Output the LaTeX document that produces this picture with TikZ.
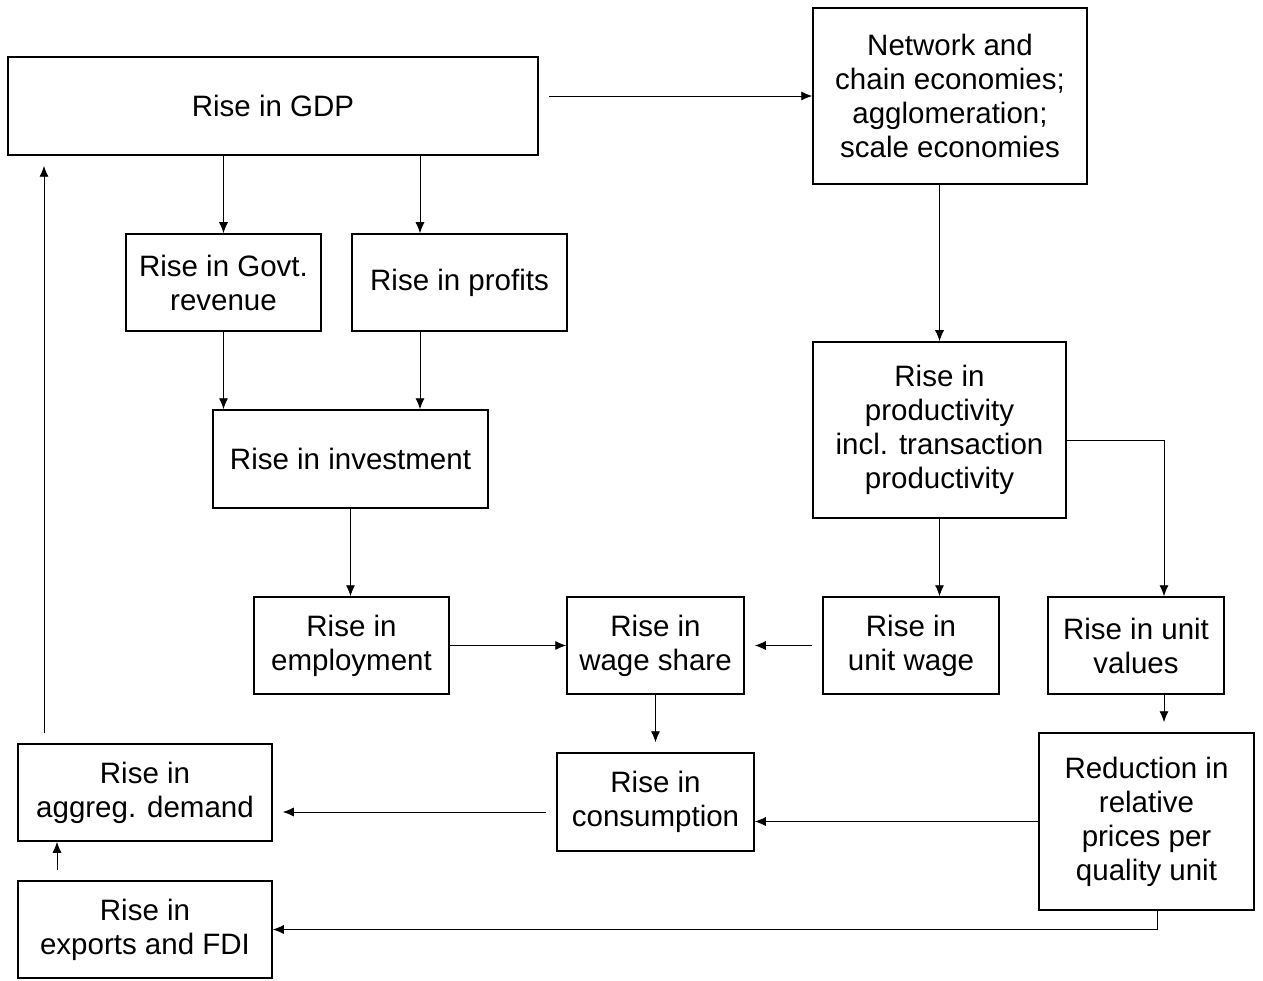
\documentclass[tikz,border=0pt]{standalone}
\usepackage{fontspec}
\setmainfont{Liberation Sans}
\usetikzlibrary{arrows.meta}
\begin{document}
\begin{tikzpicture}[x=1pt,y=-1pt,
  box/.style={draw, line width=1.5pt, align=center, inner sep=0pt,
    font=\fontsize{29.5}{34}\selectfont},
  arr/.style={line width=0.9pt, -{Latex[length=11pt,width=9pt]}}]
\useasboundingbox (0,0) rectangle (1263,981);
\node[box, minimum width=530pt, minimum height=98pt] (gdp) at (273,106) {Rise in GDP};
\node[box, minimum width=274pt, minimum height=176pt] (net) at (950,96) {Network and\\chain economies;\\agglomeration;\\scale economies};
\node[box, minimum width=195pt, minimum height=97pt] (govt) at (223.5,282.5) {Rise in Govt.\\revenue};
\node[box, minimum width=215pt, minimum height=97pt] (prof) at (459.5,282.5) {Rise in profits};
\node[box, minimum width=275pt, minimum height=98pt] (inv) at (350.5,459) {Rise in investment};
\node[box, minimum width=253pt, minimum height=176pt] (prod) at (939.5,430) {Rise in\\productivity\\incl. transaction\\productivity};
\node[box, minimum width=195pt, minimum height=97pt] (emp) at (351.5,645.5) {Rise in\\employment};
\node[box, minimum width=177pt, minimum height=97pt] (wage) at (655.5,645.5) {Rise in\\wage share};
\node[box, minimum width=176pt, minimum height=97pt] (uwage) at (911,645.5) {Rise in\\unit wage};
\node[box, minimum width=176pt, minimum height=97pt] (uval) at (1136,645.5) {Rise in unit\\values};
\node[box, minimum width=197pt, minimum height=98pt] (cons) at (655.5,802) {Rise in\\consumption};
\node[box, minimum width=215pt, minimum height=177pt] (red) at (1146.5,821.5) {Reduction in\\relative\\prices per\\quality unit};
\node[box, minimum width=254pt, minimum height=97pt] (agg) at (145,792.5) {Rise in\\aggreg. demand};
\node[box, minimum width=254pt, minimum height=97pt] (exp) at (145,929.5) {Rise in\\exports and FDI};

\coordinate (p1) at ([xshift=-39.5pt]prof.north);
\coordinate (v1) at ([xshift=28pt]uval.north);
\coordinate (e1) at ([xshift=-88pt]exp.north);
\coordinate (a1) at ([xshift=-101pt]agg.north);
\coordinate (c1) at ([yshift=-10pt]cons.west);

\draw[arr, shorten <=10pt] (gdp.east |- net.west) -- (net.west);
\draw[arr] (gdp.south -| govt.north) -- (govt.north);
\draw[arr] (gdp.south -| p1) -- (p1);
\draw[arr] (govt.south) -- (govt.south |- inv.north);
\draw[arr] (prof.south -| p1) -- (inv.north -| p1);
\draw[arr] (inv.south) -- (inv.south |- emp.north);
\draw[arr] (net.south -| prod.north) -- (prod.north);
\draw[arr] (prod.south) -- (prod.south |- uwage.north);
\draw[arr] ([yshift=-10pt]prod.east) -| (v1);
\draw[arr] (emp.east) -- (wage.west);
\draw[arr, shorten <=10pt, shorten >=10pt] (uwage.west) -- (wage.east);
\draw[arr, shorten >=10pt] (wage.south) -- (cons.north);
\draw[arr, shorten >=10pt] (uval.south -| v1) -- (red.north -| v1);
\draw[arr] (red.west) -- (red.west -| cons.east);
\draw[arr, shorten <=10pt, shorten >=10pt] (c1) -- (c1 -| agg.east);
\draw[arr, shorten <=10pt] (e1) -- (e1 |- agg.south);
\draw[arr, shorten <=10pt, shorten >=10pt] (a1) -- (a1 |- gdp.south);
\draw[arr] ([xshift=10.5pt]red.south) |- (exp.east);
\end{tikzpicture}
\end{document}
